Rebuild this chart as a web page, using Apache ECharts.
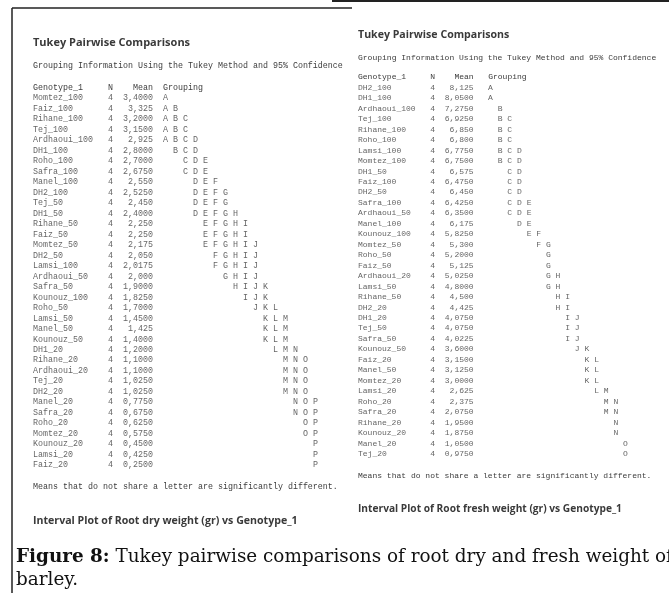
<!DOCTYPE html>
<html>
<head>
<meta charset="utf-8">
<script src="https://cdn.jsdelivr.net/npm/echarts@6/dist/echarts.min.js"></script>
<style>
  html, body { margin: 0; padding: 0; background: #ffffff; }
  #chart { width: 669px; height: 593px; }
</style>
</head>
<body>
<div id="chart"></div>
<script>
// Root dry weight (gr): Tukey grouping table
const dryGenotypes = ['Momtez_100','Faiz_100','Rihane_100','Tej_100','Ardhaoui_100','DH1_100','Roho_100','Safra_100','Manel_100','DH2_100',
  'Tej_50','DH1_50','Rihane_50','Faiz_50','Momtez_50','DH2_50','Lamsi_100','Ardhaoui_50','Safra_50','Kounouz_100',
  'Roho_50','Lamsi_50','Manel_50','Kounouz_50','DH1_20','Rihane_20','Ardhaoui_20','Tej_20','DH2_20','Manel_20',
  'Safra_20','Roho_20','Momtez_20','Kounouz_20','Lamsi_20','Faiz_20'];
const dryN = [4,4,4,4,4,4,4,4,4,4, 4,4,4,4,4,4,4,4,4,4, 4,4,4,4,4,4,4,4,4,4, 4,4,4,4,4,4];
const dryMeans = ['3,4000','3,325','3,2000','3,1500','2,925','2,8000','2,7000','2,6750','2,550','2,5250',
  '2,450','2,4000','2,250','2,250','2,175','2,050','2,0175','2,000','1,9000','1,8250',
  '1,7000','1,4500','1,425','1,4000','1,2000','1,1000','1,1000','1,0250','1,0250','0,7750',
  '0,6750','0,6250','0,5750','0,4500','0,4250','0,2500'];
const dryGroups = ['A','A B','A B C','A B C','A B C D','B C D','C D E','C D E','D E F','D E F G',
  'D E F G','D E F G H','E F G H I','E F G H I','E F G H I J','F G H I J','F G H I J','G H I J','H I J K','I J K',
  'J K L','K L M','K L M','K L M','L M N','M N O','M N O','M N O','M N O','N O P',
  'N O P','O P','O P','P','P','P'];

// Root fresh weight (gr): Tukey grouping table
const freshGenotypes = ['DH2_100','DH1_100','Ardhaoui_100','Tej_100','Rihane_100','Roho_100','Lamsi_100','Momtez_100','DH1_50','Faiz_100',
  'DH2_50','Safra_100','Ardhaoui_50','Manel_100','Kounouz_100','Momtez_50','Roho_50','Faiz_50','Ardhaoui_20','Lamsi_50',
  'Rihane_50','DH2_20','DH1_20','Tej_50','Safra_50','Kounouz_50','Faiz_20','Manel_50','Momtez_20','Lamsi_20',
  'Roho_20','Safra_20','Rihane_20','Kounouz_20','Manel_20','Tej_20'];
const freshN = [4,4,4,4,4,4,4,4,4,4, 4,4,4,4,4,4,4,4,4,4, 4,4,4,4,4,4,4,4,4,4, 4,4,4,4,4,4];
const freshMeans = ['8,125','8,0500','7,2750','6,9250','6,850','6,800','6,7750','6,7500','6,575','6,4750',
  '6,450','6,4250','6,3500','6,175','5,8250','5,300','5,2000','5,125','5,0250','4,8000',
  '4,500','4,425','4,0750','4,0750','4,0225','3,6000','3,1500','3,1250','3,0000','2,625',
  '2,375','2,0750','1,9500','1,8750','1,0500','0,9750'];
const freshGroups = ['A','A','B','B C','B C','B C','B C D','B C D','C D','C D',
  'C D','C D E','C D E','D E','E F','F G','G','G','G H','G H',
  'H I','H I','I J','I J','I J','J K','K L','K L','K L','L M',
  'M N','M N','N','N','O','O'];

// Table text
const titleText = 'Tukey Pairwise Comparisons';
const subtitleText = 'Grouping Information Using the Tukey Method and 95% Confidence';
const headerTexts = ['Genotype_1', 'N', 'Mean', 'Grouping'];
const footText = 'Means that do not share a letter are significantly different.';
const dryPlotTitle = 'Interval Plot of Root dry weight (gr) vs Genotype_1';
const freshPlotTitle = 'Interval Plot of Root fresh weight (gr) vs Genotype_1';
const captionBold = 'Figure 8:';
const captionLines = [' Tukey pairwise comparisons of root dry and fresh weight of', 'barley.'];

// Layout of the two printouts (columns measured in monospace characters)
const MONO = 'Liberation Mono';
const SANS = 'Open Sans';
const SERIF = 'DejaVu Serif';
const TEXT_COLOR = '#3c3c3c';
const COLS = { name: 0, n: 15, mean: 24, total: 62 };

const panels = [
  { names: dryGenotypes, ns: dryN, means: dryMeans, groups: dryGroups,
    left: 33, charW: 5.0, firstRow: 98.3, rowH: 10.48, groupCol: 26,
    titleY: 43, subY: 66, footY: 487, plotY: 521, plotTitle: dryPlotTitle,
    titleSize: 11, plotSize: 10.6 },
  { names: freshGenotypes, ns: freshN, means: freshMeans, groups: freshGroups,
    left: 358, charW: 4.82, firstRow: 87.8, rowH: 10.46, groupCol: 27,
    titleY: 35, subY: 58, footY: 476, plotY: 509, plotTitle: freshPlotTitle,
    titleSize: 10.6, plotSize: 10.2 }
];

const grids = [], xAxes = [], yAxes = [], series = [], graphics = [];

function monoLabel(fs, align) {
  return {
    show: true, position: [0, 0], align: align, verticalAlign: 'middle',
    fontFamily: MONO, fontSize: fs, color: TEXT_COLOR,
    formatter: p => p.data.txt
  };
}

function textSeries(gi, data, fs, align) {
  return {
    type: 'scatter', xAxisIndex: gi, yAxisIndex: gi,
    symbolSize: 0.1, itemStyle: { color: 'transparent' },
    silent: true, animation: false,
    label: monoLabel(fs, align), data: data
  };
}

panels.forEach((p, gi) => {
  const fs = p.charW / 0.6;
  const rows = p.names.length;
  grids.push({ left: p.left, top: p.firstRow - p.rowH / 2, width: COLS.total * p.charW, height: rows * p.rowH });
  xAxes.push({ gridIndex: gi, type: 'value', min: 0, max: COLS.total, show: false });
  yAxes.push({ gridIndex: gi, type: 'category', data: p.names, inverse: true, show: false });

  series.push(textSeries(gi, p.names.map((n, i) => ({ value: [COLS.name, i], txt: n })), fs, 'left'));
  series.push(textSeries(gi, p.ns.map((n, i) => ({ value: [COLS.n, i], txt: String(n) })), fs, 'left'));
  series.push(textSeries(gi, p.means.map((m, i) => ({ value: [COLS.mean, i], txt: m })), fs, 'right'));
  const letters = [];
  p.groups.forEach((g, i) => {
    g.split(' ').forEach(ch => {
      letters.push({ value: [p.groupCol + 2 * (ch.charCodeAt(0) - 65), i], txt: ch });
    });
  });
  series.push(textSeries(gi, letters, fs, 'left'));

  const colX = c => p.left + c * p.charW;
  const headY = p.firstRow - p.rowH;
  const mono = (txt, x, y, align) => ({
    type: 'text', x: x, y: y, silent: true,
    style: { text: txt, fontFamily: MONO, fontSize: fs, fill: TEXT_COLOR, align: align || 'left', verticalAlign: 'middle' }
  });
  graphics.push({
    type: 'text', x: p.left, y: p.titleY, silent: true,
    style: { text: titleText, fontFamily: SANS, fontWeight: 'bold', fontSize: p.titleSize, fill: '#3a3a3a', verticalAlign: 'middle' }
  });
  graphics.push(mono(subtitleText, colX(0), p.subY));
  graphics.push(mono(headerTexts[0], colX(COLS.name), headY));
  graphics.push(mono(headerTexts[1], colX(COLS.n), headY));
  graphics.push(mono(headerTexts[2], colX(COLS.mean), headY, 'right'));
  graphics.push(mono(headerTexts[3], colX(p.groupCol), headY));
  graphics.push(mono(footText, colX(0), p.footY));
  graphics.push({
    type: 'text', x: p.left, y: p.plotY, silent: true,
    style: { text: p.plotTitle, fontFamily: SANS, fontWeight: 'bold', fontSize: p.plotSize, fill: '#3a3a3a', verticalAlign: 'middle' }
  });
});

// Frame lines
graphics.push({ type: 'line', silent: true, shape: { x1: 12, y1: 8, x2: 12, y2: 593 }, style: { stroke: '#222', lineWidth: 1.5 } });
graphics.push({ type: 'line', silent: true, shape: { x1: 12, y1: 8, x2: 352, y2: 8 }, style: { stroke: '#222', lineWidth: 1.5 } });
graphics.push({ type: 'line', silent: true, shape: { x1: 332, y1: 1, x2: 669, y2: 1 }, style: { stroke: '#222', lineWidth: 2 } });

// Caption
const CAPTION_SIZE = 18.4;
graphics.push({
  type: 'text', x: 16, y: 557, silent: true,
  style: {
    text: '{b|' + captionBold + '}' + captionLines[0],
    fontFamily: SERIF, fontSize: CAPTION_SIZE, fill: '#111', verticalAlign: 'middle',
    rich: { b: { fontFamily: SERIF, fontSize: CAPTION_SIZE, fontWeight: 'bold', fill: '#111' } }
  }
});
graphics.push({
  type: 'text', x: 16, y: 580, silent: true,
  style: { text: captionLines[1], fontFamily: SERIF, fontSize: CAPTION_SIZE, fill: '#111', verticalAlign: 'middle' }
});

const chart = echarts.init(document.getElementById('chart'), null, { renderer: 'canvas' });
chart.setOption({
  animation: false,
  backgroundColor: '#ffffff',
  grid: grids, xAxis: xAxes, yAxis: yAxes,
  series: series,
  graphic: graphics
});
</script>
</body>
</html>
